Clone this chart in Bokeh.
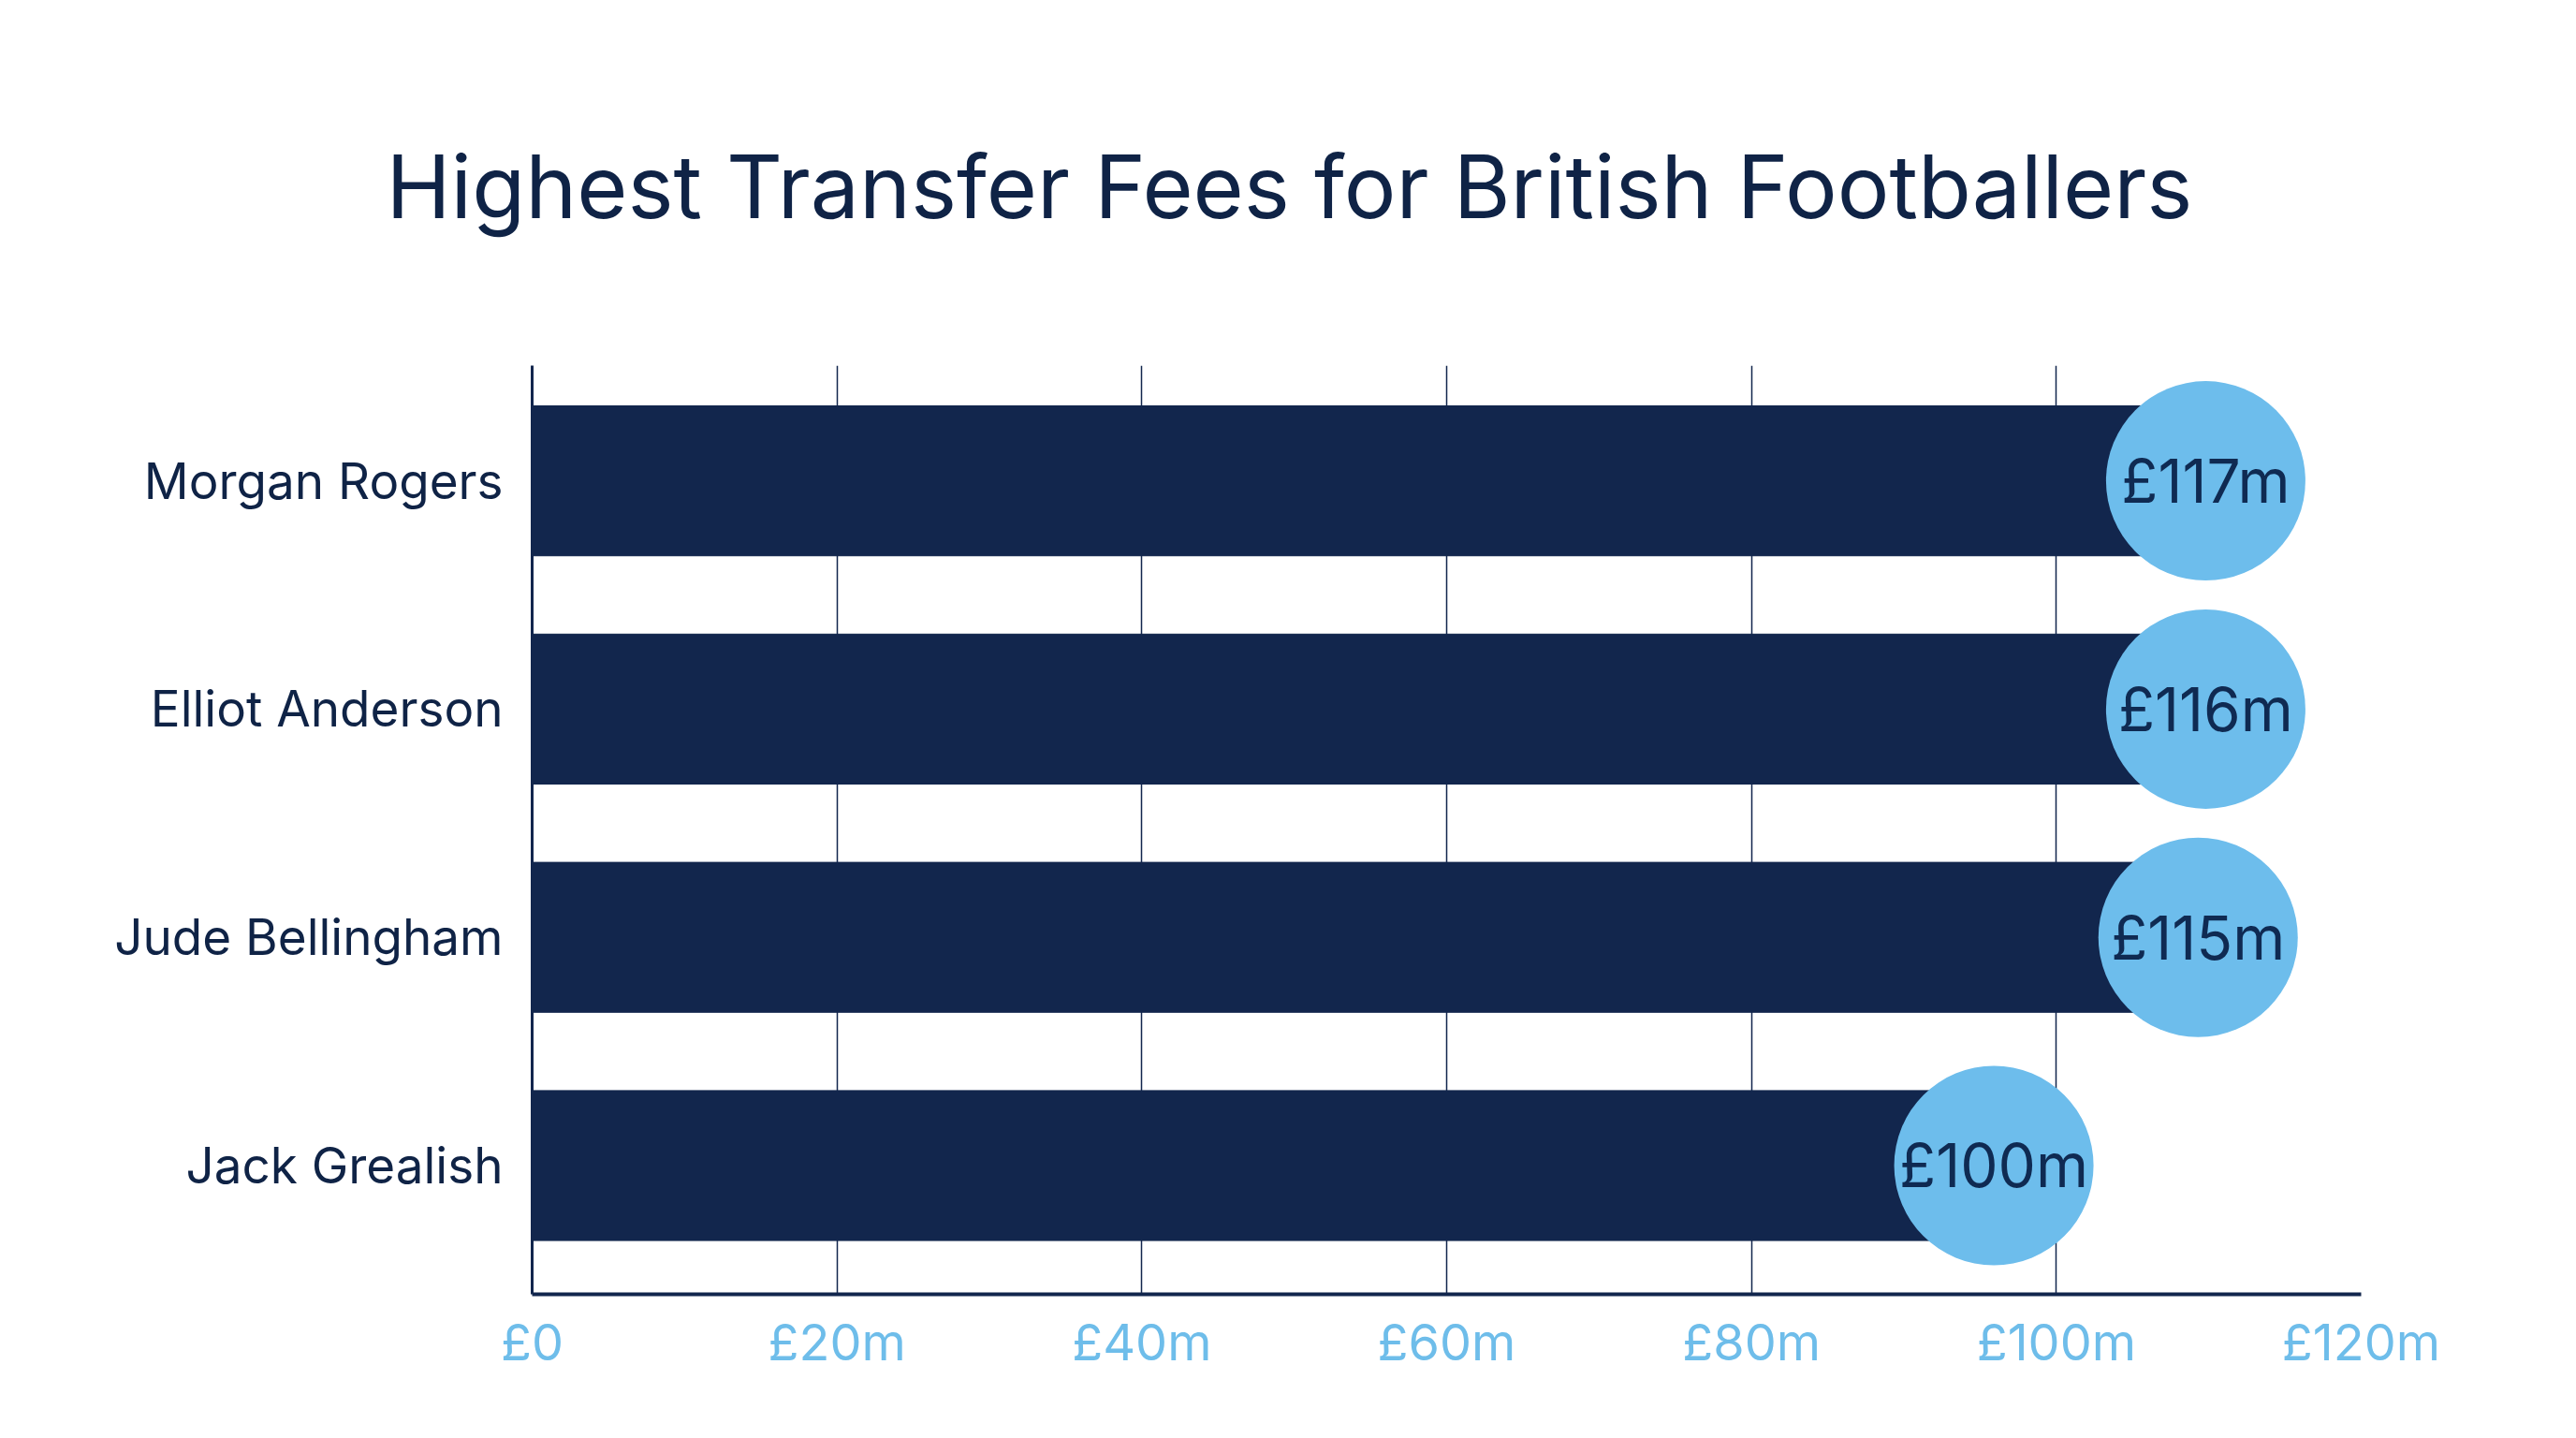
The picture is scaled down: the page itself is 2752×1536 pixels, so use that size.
from bokeh.plotting import figure
from bokeh.models import ColumnDataSource, FixedTicker, Range1d
from bokeh.core.properties import value
from bokeh.embed import file_html
from bokeh.resources import INLINE

players = ["Jack Grealish", "Jude Bellingham", "Elliot Anderson", "Morgan Rogers"]
fee_labels = ["£100m", "£115m", "£116m", "£117m"]
# bar / marker positions as drawn in the reference (£m on the x scale)
bar_end = [95.9, 109.3, 109.8, 109.8]
x_ticks = [0, 20, 40, 60, 80, 100, 120]
x_tick_labels = ["£0", "£20m", "£40m", "£60m", "£80m", "£100m", "£120m"]

NAVY = "#12264d"
LIGHT = "#6dbdec"
FONT = "Inter"

ypos = list(range(len(players)))
src = ColumnDataSource(dict(y=ypos, end=bar_end, label=fee_labels))

p = figure(width=2736, height=1520, output_backend="svg", toolbar_location=None,
           x_range=Range1d(0, 120), y_range=Range1d(-0.564, 3.505),
           min_border_left=568, min_border_right=214, min_border_bottom=138,
           min_border_top=390, background_fill_color="white",
           border_fill_color="white")
p.outline_line_color = None

p.title.text = "Highest Transfer Fees for British Footballers"
p.title.text_font = FONT
p.title.text_font_size = "93px"
p.title.text_font_style = "normal"
p.title.text_color = "#0f2346"
p.title.align = "left"
p.title.offset = -156
p.title.standoff = 267
p.title.vertical_align = "top"

p.hbar(y="y", right="end", left=0, height=0.657, source=src, color=NAVY)
p.scatter(x="end", y="y", size=213, source=src, fill_color=LIGHT, line_color=None)
p.text(x="end", y="y", text="label", source=src, text_align="center",
       text_baseline="middle", text_font=value(FONT), text_font_size="64px",
       text_color="#0f2a52")

p.xaxis.ticker = FixedTicker(ticks=x_ticks)
p.xaxis.major_label_overrides = {t: l for t, l in zip(x_ticks, x_tick_labels)}
p.xaxis.major_label_text_font = FONT
p.xaxis.major_label_text_font_size = "54px"
p.xaxis.major_label_text_color = "#6ebdea"
p.xaxis.major_label_standoff = 12
p.xaxis.axis_line_color = NAVY
p.xaxis.axis_line_width = 4
p.xaxis.major_tick_line_color = None
p.xaxis.minor_tick_line_color = None

p.yaxis.ticker = FixedTicker(ticks=ypos)
p.yaxis.major_label_overrides = {i: n for i, n in zip(ypos, players)}
p.yaxis.major_label_text_font = FONT
p.yaxis.major_label_text_font_size = "53px"
p.yaxis.major_label_text_color = "#0f2346"
p.yaxis.major_label_standoff = 25
p.yaxis.axis_line_color = NAVY
p.yaxis.axis_line_width = 3
p.yaxis.major_tick_line_color = None
p.yaxis.minor_tick_line_color = None

p.xgrid.grid_line_color = NAVY
p.xgrid.grid_line_width = 1.5
p.ygrid.grid_line_color = None

open("out.html", "w").write(file_html(p, INLINE))
